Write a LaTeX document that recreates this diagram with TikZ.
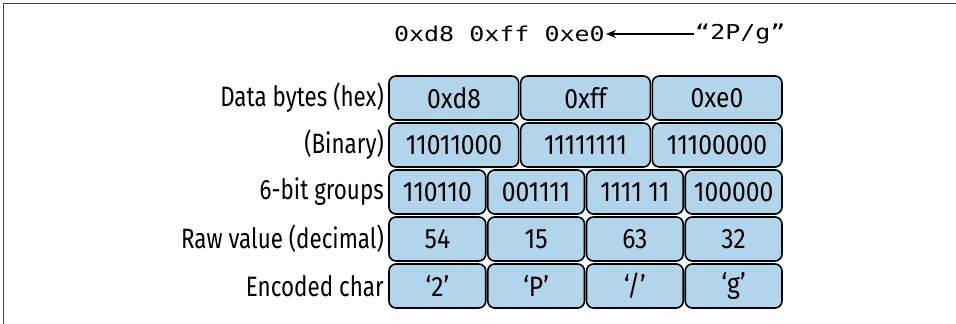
\documentclass[tikz,border=0pt]{standalone}
\usepackage{fontspec}
\setmainfont{Fira Sans}[FakeStretch=0.8]
\newfontfamily\cellf{Fira Sans}[FakeStretch=0.88]
\newfontfamily\monof{DejaVu Sans Mono}[FakeStretch=1.22]
\usetikzlibrary{arrows.meta}
\definecolor{cellblue}{HTML}{B3D5EB}
\definecolor{framegray}{HTML}{444444}
\tikzset{
  cell/.style={draw=black, fill=cellblue, line width=1.6pt, rounded corners=7pt},
  celltext/.style={font=\cellf\fontsize{28}{28}\selectfont, inner sep=0pt},
  rowlabel/.style={font=\fontsize{28}{28}\selectfont, anchor=east, inner sep=0pt},
  monotext/.style={font=\monof\fontsize{20.5}{20.5}\selectfont, inner sep=1pt},
}
\begin{document}
\begin{tikzpicture}[x=1pt, y=-1pt]
\useasboundingbox (0,0) rectangle (956,324);
\draw[framegray, line width=1.6pt] (3.5,324) -- (3.5,3.5) -- (956,3.5);

% top line
\node[monotext, anchor=east] (hexline) at (606,34) {0xd8 0xff 0xe0};
\node[monotext, anchor=west] (str) at (694,34) {“2P/g”};
\draw[line width=1.6pt, -{Stealth[length=10pt,width=8pt]}] (str.west) -- (hexline.east);

% row labels
\node[rowlabel] (lab1) at (384,98) {Data bytes (hex)};
\node[rowlabel] (lab2) at (384,145) {(Binary)};
\node[rowlabel] (lab3) at (384,192) {6-bit groups};
\node[rowlabel] (lab4) at (384,239) {Raw value (decimal)};
\node[rowlabel] (lab5) at (384,286) {Encoded char};

% three-column rows
\foreach \y in {98,145}{
  \foreach \c in {0,1,2}{
    \pgfmathsetmacro{\xl}{388+131.67*\c+1}
    \pgfmathsetmacro{\xr}{388+131.67*(\c+1)-1}
    \draw[cell] (\xl,\y-22) rectangle (\xr,\y+22);
  }
}
\node[celltext] (b11) at (454,98) {0xd8};
\node[celltext] (b12) at (585.5,98) {0xff};
\node[celltext] (b13) at (717,98) {0xe0};
\node[celltext] (b21) at (454,145) {11011000};
\node[celltext] (b22) at (585.5,145) {11111111};
\node[celltext] (b23) at (717,145) {11100000};

% four-column rows
\foreach \y in {192,239,286}{
  \foreach \c in {0,1,2,3}{
    \pgfmathsetmacro{\xl}{388+98.75*\c+1}
    \pgfmathsetmacro{\xr}{388+98.75*(\c+1)-1}
    \draw[cell] (\xl,\y-22) rectangle (\xr,\y+22);
  }
}
\node[celltext] (c31) at (437.4,192) {110110};
\node[celltext] (c32) at (536.1,192) {001111};
\node[celltext] (c33) at (634.9,192) {1111 11};
\node[celltext] (c34) at (733.6,192) {100000};
\node[celltext] (c41) at (437.4,239) {54};
\node[celltext] (c42) at (536.1,239) {15};
\node[celltext] (c43) at (634.9,239) {63};
\node[celltext] (c44) at (733.6,239) {32};
\node[celltext] (c51) at (437.4,286) {‘2’};
\node[celltext] (c52) at (536.1,286) {‘P’};
\node[celltext] (c53) at (634.9,286) {‘/’};
\node[celltext] (c54) at (733.6,286) {‘g’};
\end{tikzpicture}
\end{document}
